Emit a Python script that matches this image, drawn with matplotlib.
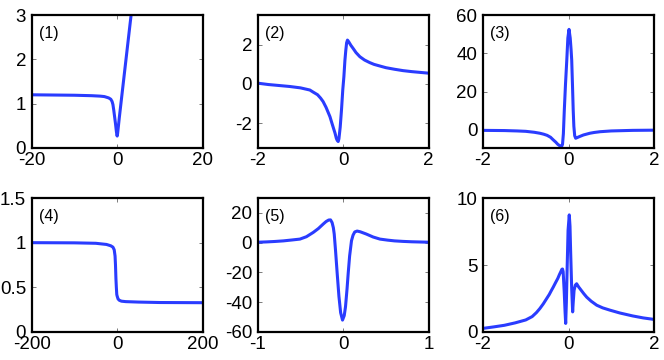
import matplotlib
matplotlib.use("Agg")
import matplotlib.pyplot as plt

plt.rcParams['font.family'] = ['Liberation Sans', 'DejaVu Sans']

# ---- data ----
x1 = [-20, -15, -10, -6, -4, -3, -2, -1.5, -1.2, -1.0, -0.8, -0.6, -0.4, -0.2, -0.05, 0, 0.1, 0.5, 1, 2, 3, 3.4]
y1 = [1.20, 1.195, 1.19, 1.18, 1.17, 1.16, 1.13, 1.10, 1.05, 0.98, 0.85, 0.70, 0.55, 0.38, 0.28, 0.27, 0.33, 0.69, 1.11, 1.95, 2.79, 3.12]

x2 = [-2, -1.75, -1.5, -1.25, -1.0, -0.9, -0.78, -0.7, -0.6, -0.53, -0.47, -0.4, -0.31, -0.25, -0.19, -0.16, -0.14, -0.117,
      -0.10, -0.07, -0.04, -0.01, 0.016, 0.04, 0.06, 0.08, 0.10, 0.13, 0.18, 0.23, 0.3, 0.39, 0.5, 0.62, 0.72, 0.85, 1.0, 1.2, 1.4, 1.6, 1.8, 2.0]
y2 = [0.04, -0.03, -0.08, -0.13, -0.2, -0.25, -0.31, -0.42, -0.55, -0.72, -0.90, -1.2, -1.67, -2.1, -2.52, -2.78, -2.88, -2.94,
      -2.8, -2.2, -1.33, -0.3, 0.37, 1.2, 1.7, 2.1, 2.24, 2.15, 1.97, 1.82, 1.6, 1.39, 1.22, 1.09, 1.0, 0.92, 0.83, 0.75, 0.68, 0.63, 0.59, 0.55]

x3 = [-2, -1.5, -1.2, -1, -0.8, -0.67, -0.58, -0.5, -0.42, -0.355, -0.3, -0.25, -0.2, -0.159, -0.14, -0.12, -0.098, -0.07, -0.04,
      -0.015, 0.012, 0.04, 0.06, 0.075, 0.095, 0.11, 0.125, 0.145, 0.168, 0.2, 0.25, 0.35, 0.5, 0.6, 0.74, 1.0, 1.5, 2.0]
y3 = [-0.2, -0.3, -0.5, -0.7, -1.2, -1.7, -2.2, -2.8, -3.8, -5.2, -6.3, -7.5, -8.3, -8.5, -7.5, -2.0, 10.4, 24.0, 36.5,
      48.0, 52.5, 48.0, 42.0, 36.5, 22.0, 10.4, 2.0, -3.0, -4.3, -4.0, -3.5, -2.6, -1.7, -1.3, -0.9, -0.5, -0.2, -0.1]

x4 = [-200, -100, -50, -25, -15, -10, -7, -5, -4, -3, -2, -1, 0, 2, 5, 10, 20, 50, 100, 200]
y4 = [1.0, 0.998, 0.993, 0.98, 0.965, 0.95, 0.92, 0.85, 0.75, 0.6, 0.5, 0.42, 0.40, 0.37, 0.355, 0.345, 0.34, 0.335, 0.33, 0.328]

x5 = [-1, -0.9, -0.8, -0.7, -0.6, -0.506, -0.43, -0.35, -0.29, -0.234, -0.2, -0.17, -0.148, -0.13, -0.115, -0.105, -0.09, -0.07,
      -0.05, -0.03, -0.008, 0.012, 0.027, 0.045, 0.058, 0.075, 0.097, 0.115, 0.135, 0.163, 0.2, 0.27, 0.35, 0.43, 0.52, 0.6, 0.7, 0.8, 0.9, 1.0]
y5 = [0.3, 0.5, 0.8, 1.2, 1.8, 2.4, 4.0, 6.9, 9.5, 12.5, 14.2, 15.2, 15.3, 13.5, 10.0, 5.8, -5.0, -20.9,
      -36.0, -47.0, -52.0, -49.0, -43.0, -31.0, -20.9, -9.0, 1.3, 5.0, 7.2, 7.8, 7.3, 5.8, 3.8, 2.4, 1.7, 1.2, 0.85, 0.6, 0.45, 0.3]

x6 = [-2, -1.75, -1.5, -1.25, -1.0, -0.85, -0.75, -0.67, -0.59, -0.52, -0.45, -0.4, -0.355, -0.3, -0.25, -0.21, -0.18, -0.155,
      -0.14, -0.125, -0.1, -0.08, -0.066, -0.05, -0.03, -0.01, 0.018, 0.035, 0.05, 0.075, 0.097, 0.11, 0.13, 0.16, 0.19, 0.24,
      0.3, 0.36, 0.426, 0.53, 0.66, 0.8, 0.97, 1.2, 1.5, 1.75, 2.0]
y6 = [0.27, 0.38, 0.5, 0.68, 0.9, 1.15, 1.45, 1.75, 2.1, 2.45, 2.8, 3.1, 3.36, 3.7, 4.0, 4.3, 4.5, 4.68,
      4.7, 4.5, 3.0, 1.5, 0.64, 2.2, 5.0, 7.6, 8.74, 7.9, 6.0, 3.2, 1.5, 2.2, 3.1, 3.5, 3.6, 3.35,
      3.1, 2.85, 2.6, 2.3, 2.0, 1.8, 1.63, 1.42, 1.2, 1.05, 0.94]

labels = ['(1)', '(2)', '(3)', '(4)', '(5)', '(6)']
xlims = [(-20, 20), (-2, 2), (-2, 2), (-200, 200), (-1, 1), (-2, 2)]
ylims = [(0, 3), (-3.27, 3.52), (-9.4, 60), (0, 1.5), (-60, 30), (0, 10)]
xticks = [[-20, 0, 20], [-2, 0, 2], [-2, 0, 2], [-200, 0, 200], [-1, 0, 1], [-2, 0, 2]]
yticks = [[0, 1, 2, 3], [-2, 0, 2], [0, 20, 40, 60], [0, 0.5, 1, 1.5], [-60, -40, -20, 0, 20], [0, 5, 10]]
yticklabels = [None, None, None, ['0', '0.5', '1', '1.5'], None, None]

xs = [x1, x2, x3, x4, x5, x6]
ys = [y1, y2, y3, y4, y5, y6]

fig = plt.figure(figsize=(6.64, 3.6), dpi=100)
lefts = [31.7 / 664, 257.7 / 664, 483 / 664]
width = 171 / 664
rows = [(1 - 148 / 360, 133 / 360), (1 - 332 / 360, 134 / 360)]

color = '#2a3cff'
for i in range(6):
    r, c = divmod(i, 3)
    ax = fig.add_axes([lefts[c], rows[r][0], width, rows[r][1]])
    ax.plot(xs[i], ys[i], color=color, lw=2.2, solid_joinstyle='round', solid_capstyle='round')
    ax.set_xlim(*xlims[i])
    ax.set_ylim(*ylims[i])
    ax.set_xticks(xticks[i])
    ax.set_yticks(yticks[i])
    if yticklabels[i] is not None:
        ax.set_yticklabels(yticklabels[i])
    else:
        ax.set_yticklabels([str(v) for v in yticks[i]])
    ax.set_xticklabels([str(v) for v in xticks[i]])
    for s in ax.spines.values():
        s.set_linewidth(1.6)
    ax.tick_params(direction='in', length=3, width=0.6, color='0.4', top=True, right=True,
                   labelsize=13.5, pad=3)
    ax.tick_params(axis='y', pad=4)
    ax.text(0.04, 0.92, labels[i], transform=ax.transAxes, ha='left', va='top', fontsize=11.5)

fig.savefig('out.png', dpi=100)
